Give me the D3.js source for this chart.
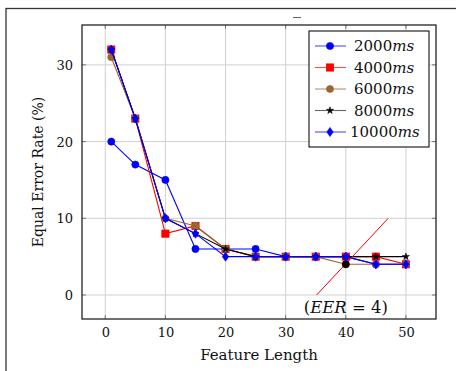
<!DOCTYPE html>
<html><head><meta charset="utf-8">
<script src="https://cdn.jsdelivr.net/npm/d3@7"></script>
<style>
body{margin:0;background:#fff;}
svg text{font-family:"DejaVu Serif";}
</style></head>
<body><svg id="c" width="456" height="371"></svg>
<script>
const featureLength = [1,5,10,15,20,25,30,35,40,45,50];
const s2000  = [20,17,15,6,6,6,5,5,5,4,4];
const s4000  = [32,23,8,9,6,5,5,5,5,5,4];
const s6000  = [31,23,10,9,6,5,5,5,4,4,4];
const s8000  = [32,23,10,8,6,5,5,5,5,5,5];
const s10000 = [32,23,10,8,5,5,5,5,5,4,4];
const seriesNames = ["2000","4000","6000","8000","10000"];
const xTicks = [0,10,20,30,40,50];
const yTicks = [0,10,20,30];
const eerLineX = [35.15,47.05];
const eerLineY = [0,10];
const eerPoint = [40,4];

const svg = d3.select("#c");
const L=82,R=436,T=25,B=319;
const x = d3.scaleLinear().domain([-3.87,55.0]).range([L,R]);
const y = d3.scaleLinear().domain([-3.13,35.2]).range([B,T]);
const FS = 14;

svg.append("rect").attr("x",6).attr("y",8.5).attr("width",470).attr("height",400)
  .attr("fill","none").attr("stroke","#333").attr("stroke-width",1.3);
svg.append("line").attr("x1",293).attr("x2",301).attr("y1",17.5).attr("y2",17.5).attr("stroke","#666").attr("stroke-width",1);

const g = svg.append("g");
g.selectAll(".gx").data(xTicks).join("line").attr("x1",d=>x(d)).attr("x2",d=>x(d))
  .attr("y1",T).attr("y2",B).attr("stroke","#d0d0d0").attr("stroke-width",1);
g.selectAll(".gy").data(yTicks).join("line").attr("y1",d=>y(d)).attr("y2",d=>y(d))
  .attr("x1",L).attr("x2",R).attr("stroke","#d0d0d0").attr("stroke-width",1);
xTicks.forEach(d=>{
  g.append("line").attr("x1",x(d)).attr("x2",x(d)).attr("y1",B).attr("y2",B-4).attr("stroke","#777");
  g.append("line").attr("x1",x(d)).attr("x2",x(d)).attr("y1",T).attr("y2",T+4).attr("stroke","#777");
});
yTicks.forEach(d=>{
  g.append("line").attr("y1",y(d)).attr("y2",y(d)).attr("x1",L).attr("x2",L+4).attr("stroke","#777");
  g.append("line").attr("y1",y(d)).attr("y2",y(d)).attr("x1",R).attr("x2",R-4).attr("stroke","#777");
});

const xa = svg.append("g").attr("transform",`translate(0,${B})`)
  .call(d3.axisBottom(x).tickValues(xTicks).tickSize(0).tickPadding(9));
const ya = svg.append("g").attr("transform",`translate(${L},0)`)
  .call(d3.axisLeft(y).tickValues(yTicks).tickSize(0).tickPadding(9));
[xa,ya].forEach(a=>{a.select(".domain").remove();
  a.attr("font-family",null).attr("font-size",null);
  a.selectAll("text").attr("font-size",13).attr("fill","#111");});
ya.selectAll("text").attr("dy","0.36em");

svg.append("text").attr("x",259).attr("y",360).attr("text-anchor","middle")
  .attr("font-size",15).attr("fill","#111").text("Feature Length");
svg.append("text").attr("transform","translate(43,172) rotate(-90)").attr("text-anchor","middle")
  .attr("font-size",FS).attr("fill","#111").text("Equal Error Rate (%)");

const line = d3.line().x(d=>x(d[0])).y(d=>y(d[1]));
const series = [
 {name:seriesNames[0], vals:s2000, color:"#0000ff", mark:"circle"},
 {name:seriesNames[1], vals:s4000, color:"#ff0000", mark:"square"},
 {name:seriesNames[2], vals:s6000, color:"#9a6633", mark:"circle"},
 {name:seriesNames[3], vals:s8000, color:"#000000", mark:"star"},
 {name:seriesNames[4], vals:s10000, color:"#0000ff", mark:"diamond"},
];
function drawMark(sel,m,color){
  let p;
  if(m==="circle") p = sel.append("circle").attr("r",3.6).attr("fill",color).attr("stroke",color).attr("stroke-width",0.6);
  else if(m==="square") p = sel.append("rect").attr("x",-3.6).attr("y",-3.6).attr("width",7.2).attr("height",7.2).attr("fill",color).attr("stroke",color).attr("stroke-width",0.8);
  else if(m==="diamond") p = sel.append("path").attr("d","M0,-4.6L3.2,0L0,4.6L-3.2,0Z").attr("fill",color).attr("stroke",color).attr("stroke-width",0.6);
  else p = sel.append("path").attr("d",d3.symbol(d3.symbolStar).size(16)()).attr("fill","#000").attr("stroke","#000").attr("stroke-width",0.5);
  return p;
}
const plot = svg.append("g");
series.forEach(s=>{
  const pts = featureLength.map((f,i)=>[f,s.vals[i]]);
  const gg = plot.append("g");
  gg.append("path").attr("d",line(pts)).attr("fill","none").attr("stroke",s.color).attr("stroke-width",1.1);
  pts.forEach(p=>{
    const mg = gg.append("g").attr("transform",`translate(${x(p[0])},${y(p[1])})`);
    drawMark(mg,s.mark,s.color);
  });
});

svg.append("line").attr("x1",x(eerLineX[0])).attr("y1",y(eerLineY[0])).attr("x2",x(eerLineX[1])).attr("y2",y(eerLineY[1]))
  .attr("stroke","#ff0000").attr("stroke-width",1);
svg.append("circle").attr("cx",x(eerPoint[0])).attr("cy",y(eerPoint[1])).attr("r",3.8).attr("fill","#000");
const et = svg.append("text").attr("x",x(eerPoint[0])).attr("y",313).attr("text-anchor","middle")
  .attr("font-size",16.5).attr("fill","#111");
et.append("tspan").text("(");
et.append("tspan").attr("font-style","italic").text("EER");
et.append("tspan").text(" = 4)");

svg.append("rect").attr("x",L).attr("y",T).attr("width",R-L).attr("height",B-T)
  .attr("fill","none").attr("stroke","#111").attr("stroke-width",1.2);

const lg = svg.append("g");
lg.append("rect").attr("x",309).attr("y",31).attr("width",120).attr("height",116)
  .attr("fill","#fff").attr("stroke","#111").attr("stroke-width",1.1);
series.forEach((s,i)=>{
  const yy = 46 + i*21.5;
  lg.append("line").attr("x1",315).attr("x2",346).attr("y1",yy).attr("y2",yy).attr("stroke",s.color).attr("stroke-width",1.1).attr("stroke-opacity",s.mark==="star"?0.6:0.7);
  const mg = lg.append("g").attr("transform",`translate(330,${yy})`);
  drawMark(mg,s.mark,s.color);
  const t = lg.append("text").attr("x",s.name.length>4?350:354).attr("y",yy+5).attr("font-size",15).attr("fill","#111");
  t.append("tspan").text(s.name);
  t.append("tspan").attr("font-style","italic").text("ms");
});
</script></body></html>
